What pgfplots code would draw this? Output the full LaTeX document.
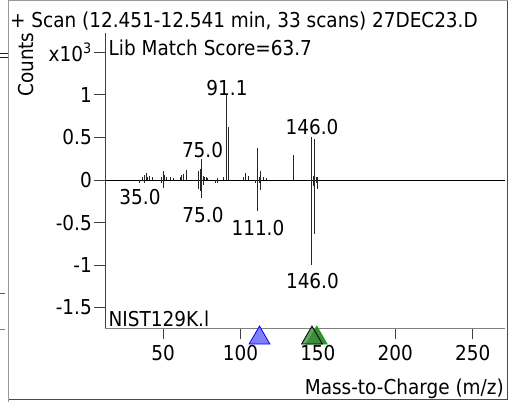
\documentclass[border=0pt]{standalone}
\usepackage{pgfplots}
\pgfplotsset{compat=1.18}
\usepackage{fontspec}
\setmainfont{DejaVu Sans Condensed}
\definecolor{trifill}{RGB}{128,128,255}
\definecolor{grfill}{RGB}{60,140,60}
\definecolor{gredge}{RGB}{20,170,20}
\begin{document}
\fontsize{20.5bp}{24bp}\selectfont
\begin{tikzpicture}[x=1bp,y=1bp]
\path[use as bounding box, fill=white] (0,0) rectangle (518,402);
% bits of the neighbouring panel
\draw[blue, line width=0.8bp] (0,348.5) -- (8,348.5);
\draw[blue, line width=0.8bp] (0,345) -- (8,345);
\draw[teal, line width=0.8bp] (0,109) -- (5,109);
\draw[gray, line width=0.8bp] (0,73) -- (5,73);
% frame
\draw[gray!80, line width=1bp] (8.5,0) -- (8.5,401.2) -- (507.5,401.2);
\draw[black!70, line width=1bp] (507.5,401.2) -- (507.5,2.5) -- (8.5,2.5);
\begin{axis}[
  at={(105bp,74bp)}, anchor=south west,
  scale only axis, width=400bp, height=295bp,
  xmin=12.5, xmax=270.9, ymin=-1.739, ymax=1.727,
  axis x line*=bottom, axis y line*=left,
  x axis line style={-, gray, line width=1bp},
  y axis line style={-, black!75, line width=1bp},
  tick align=outside, major tick length=11bp,
  tick style={black!75, line width=0.8bp},
  xtick={50,100,150,200,250},
  xticklabels={50,100,150,200,250},
  ytick={-1.5,-1,-0.5,0,0.5,1,1.5},
  yticklabels={-1.5,-1,-0.5,0,0.5,1,x10\textsuperscript{3}},
  yticklabel style={inner xsep=2bp},
  xticklabel style={inner sep=6.5bp},
  clip=false,
]
% zero line
\addplot[black, line width=0.8bp] coordinates {(12.5,0) (270.9,0)};
% sample spectrum
\addplot[ycomb, black!85, line width=0.9bp] coordinates {
(37,0.03) (38,0.06) (39,0.08) (40,0.03) (41,0.05) (43,0.04)
(49,0.03) (50,0.10) (51,0.06) (52,0.03) (55,0.04) (57,0.02)
(61,0.04) (62,0.06) (63,0.07) (65,0.12)
(73,0.10) (74,0.13) (75,0.25) (76,0.05) (77,0.04) (78,0.03) (79,0.02)
(85,0.02) (89,0.03) (91,1.00) (92,0.62)
(102,0.04) (103,0.08) (105,0.05)
(111,0.37) (112,0.03) (113,0.10) (115,0.03) (117,0.02)
(134,0.29)
(146,0.51) (147,0.05) (148,0.48) (149,0.03) (150,0.04)
};
% library spectrum
\addplot[ycomb, black!85, line width=0.9bp] coordinates {
(35,-0.03) (37,-0.01) (38,-0.03) (49,-0.03) (50,-0.09)
(73,-0.10) (74,-0.13) (75,-0.21) (76,-0.06)
(84,-0.03) (85,-0.03)
(110,-0.03) (111,-0.37) (112,-0.03) (113,-0.12)
(146,-1.00) (147,-0.07) (148,-0.63) (149,-0.04) (150,-0.10)
};
% triangles
\addplot[only marks, mark=triangle*, mark size=12bp,
  mark options={fill=trifill, draw=blue, line width=0.8bp}] coordinates {(112.3,-1.857)};
\addplot[only marks, mark=triangle*, mark size=12bp,
  mark options={fill=grfill, draw=gredge, line width=0.8bp}] coordinates {(149.3,-1.857)};
\addplot[only marks, mark=triangle*, mark size=12bp,
  mark options={fill=grfill, fill opacity=0.8, draw=black, line width=0.8bp}] coordinates {(146.2,-1.857)};
% peak labels
\node[inner sep=0pt] at (axis cs:91.3,1.081) {91.1};
\node[inner sep=0pt] at (axis cs:75.5,0.353) {75.0};
\node[inner sep=0pt] at (axis cs:146.2,0.623) {146.0};
\node[inner sep=0pt] at (axis cs:35.1,-0.20) {35.0};
\node[inner sep=0pt] at (axis cs:75.8,-0.41) {75.0};
\node[inner sep=0pt] at (axis cs:111.3,-0.564) {111.0};
\node[inner sep=0pt] at (axis cs:146.5,-1.187) {146.0};
\end{axis}
% texts
\node[anchor=base west, inner sep=0pt] at (10,375) {+ Scan (12.451-12.541 min, 33 scans) 27DEC23.D};
\node[anchor=base west, inner sep=0pt] at (108.5,347) {Lib Match Score=63.7};
\node[anchor=base west, inner sep=0pt, rotate=90] at (33,305) {Counts};
\node[anchor=base west, inner sep=0pt] at (108.5,76) {NIST129K.l};
\node[anchor=base east, inner sep=0pt] at (504,8) {Mass-to-Charge (m/z)};
\end{tikzpicture}
\end{document}
